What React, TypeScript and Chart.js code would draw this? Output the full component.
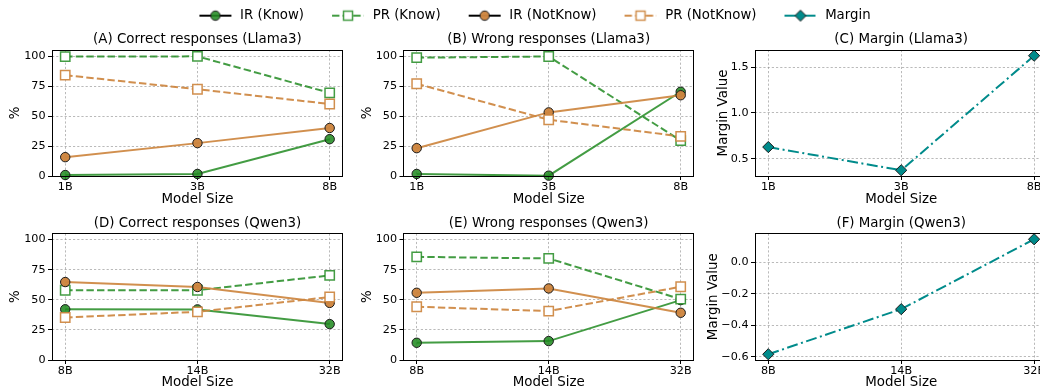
import React, { useEffect, useRef } from 'react';
import { Chart, registerables } from 'chart.js';

Chart.register(...registerables);

// ---------------- data ----------------
const llamaSizes = ['1B', '3B', '8B'];
const qwenSizes = ['8B', '14B', '32B'];

// (A) Correct responses (Llama3)
const llamaCorrectIRKnow = [0.8, 1.7, 30.7];
const llamaCorrectPRKnow = [99.5, 99.7, 69.3];
const llamaCorrectIRNotKnow = [15.7, 27.4, 40.0];
const llamaCorrectPRNotKnow = [84.0, 72.3, 60.0];

// (B) Wrong responses (Llama3)
const llamaWrongIRKnow = [1.7, 0.3, 70.2];
const llamaWrongPRKnow = [98.6, 99.6, 29.5];
const llamaWrongIRNotKnow = [23.2, 53.0, 67.3];
const llamaWrongPRNotKnow = [76.9, 46.9, 33.0];

// (C) Margin (Llama3)
const llamaMargin = [0.627, 0.373, 1.626];

// (D) Correct responses (Qwen3)
const qwenCorrectIRKnow = [42.1, 42.0, 29.8];
const qwenCorrectPRKnow = [57.9, 57.9, 70.2];
const qwenCorrectIRNotKnow = [64.7, 60.6, 47.4];
const qwenCorrectPRNotKnow = [35.3, 40.0, 52.3];

// (E) Wrong responses (Qwen3)
const qwenWrongIRKnow = [14.3, 15.7, 49.7];
const qwenWrongPRKnow = [85.6, 84.3, 50.5];
const qwenWrongIRNotKnow = [55.8, 59.4, 39.2];
const qwenWrongPRNotKnow = [44.2, 40.6, 60.8];

// (F) Margin (Qwen3)
const qwenMargin = [-0.583, -0.297, 0.146];

// tick values
const percentTicks = [0, 25, 50, 75, 100];
const llamaMarginTicks = [0.5, 1.0, 1.5];
const qwenMarginTicks = [-0.6, -0.4, -0.2, 0.0];

const legendLabels = ['IR (Know)', 'PR (Know)', 'IR (NotKnow)', 'PR (NotKnow)', 'Margin'];

// ---------------- styles ----------------
const FONT = 'DejaVu Sans';
const GREEN_LINE = 'rgba(34,139,34,0.85)';
const GREEN_FILL = 'rgba(34,139,34,0.88)';
const ORANGE_LINE = 'rgba(205,133,63,0.92)';
const ORANGE_FILL = 'rgba(205,133,63,0.97)';
const TEAL = '#008b8b';
const GRID = 'rgba(140,140,140,0.75)';
const DASH = [7.4, 3.2];
const DASHDOT = [11, 3.5, 2, 3.5];

const tickFont = { family: FONT, size: 11.2 };
const labelFont = { family: FONT, size: 13.4, weight: 'normal' as const };

type Series = { irKnow: number[]; prKnow: number[]; irNot: number[]; prNot: number[] };

type Panel = {
  title: string;
  sizes: string[];
  series?: Series;
  margin?: number[];
  yTicks: number[];
  left: number;
  top: number;
  ly: number;
  w: number;
  tt: number;
  h: number;
  bb: number;
  yPad: number;
};

const ROW1 = { top: 31, tt: 19, h: 126, bb: 32 };
const ROW2 = { top: 215, tt: 18.5, h: 126.5, bb: 31 };
const COLA = { left: 0, ly: 52, w: 293 };
const COLB = { left: 351, ly: 52.5, w: 292.5 };
const COLC = { left: 695, ly: 60, w: 293 };

const panels: Panel[] = [
  {
    title: '(A) Correct responses (Llama3)', sizes: llamaSizes,
    series: { irKnow: llamaCorrectIRKnow, prKnow: llamaCorrectPRKnow, irNot: llamaCorrectIRNotKnow, prNot: llamaCorrectPRNotKnow },
    yTicks: percentTicks, ...ROW1, ...COLA, yPad: 7.5,
  },
  {
    title: '(B) Wrong responses (Llama3)', sizes: llamaSizes,
    series: { irKnow: llamaWrongIRKnow, prKnow: llamaWrongPRKnow, irNot: llamaWrongIRNotKnow, prNot: llamaWrongPRNotKnow },
    yTicks: percentTicks, ...ROW1, ...COLB, yPad: 8.0,
  },
  {
    title: '(C) Margin (Llama3)', sizes: llamaSizes, margin: llamaMargin,
    yTicks: llamaMarginTicks, ...ROW1, ...COLC, yPad: 20.5,
  },
  {
    title: '(D) Correct responses (Qwen3)', sizes: qwenSizes,
    series: { irKnow: qwenCorrectIRKnow, prKnow: qwenCorrectPRKnow, irNot: qwenCorrectIRNotKnow, prNot: qwenCorrectPRNotKnow },
    yTicks: percentTicks, ...ROW2, ...COLA, yPad: 7.5,
  },
  {
    title: '(E) Wrong responses (Qwen3)', sizes: qwenSizes,
    series: { irKnow: qwenWrongIRKnow, prKnow: qwenWrongPRKnow, irNot: qwenWrongIRNotKnow, prNot: qwenWrongPRNotKnow },
    yTicks: percentTicks, ...ROW2, ...COLB, yPad: 8.0,
  },
  {
    title: '(F) Margin (Qwen3)', sizes: qwenSizes, margin: qwenMargin,
    yTicks: qwenMarginTicks, ...ROW2, ...COLC, yPad: 10,
  },
];

const RIGHT_PAD = 6;

const toPts = (vals: number[]) => vals.map((y, x) => ({ x, y }));

function irDataset(label: string, vals: number[], line: string, fill: string, order: number) {
  return {
    label, data: toPts(vals), order,
    borderColor: line, borderWidth: 2, borderDash: [],
    pointStyle: 'circle', pointRadius: 4.7, pointBackgroundColor: fill,
    pointBorderColor: '#1a1a1a', pointBorderWidth: 1, tension: 0, clip: false,
  };
}

function prDataset(label: string, vals: number[], line: string, order: number) {
  return {
    label, data: toPts(vals), order,
    borderColor: line, borderWidth: 2, borderDash: DASH,
    pointStyle: 'rect', pointRadius: 6.6, pointBackgroundColor: '#ffffff',
    pointBorderColor: line, pointBorderWidth: 1.5, tension: 0, clip: false,
  };
}

const framePlugin = {
  id: 'frame',
  afterDatasetsDraw(chart: any) {
    const { ctx, chartArea: a } = chart;
    const l = Math.floor(a.left) + 0.5;
    const r = Math.floor(a.right) + 0.5;
    const t = Math.floor(a.top) + 0.5;
    const b = Math.floor(a.bottom) + 0.5;
    ctx.save();
    ctx.strokeStyle = '#000';
    ctx.lineWidth = 1;
    ctx.setLineDash([]);
    ctx.strokeRect(l, t, r - l, b - t);
    ctx.restore();
  },
};

function buildConfig(p: Panel): any {
  let datasets: any[];
  let ymin: number;
  let ymax: number;
  let yTitle: string;
  let fmt: (v: number) => string;
  if (p.series) {
    datasets = [
      irDataset('IR (Know)', p.series.irKnow, GREEN_LINE, GREEN_FILL, 4),
      prDataset('PR (Know)', p.series.prKnow, GREEN_LINE, 3),
      irDataset('IR (NotKnow)', p.series.irNot, ORANGE_LINE, ORANGE_FILL, 2),
      prDataset('PR (NotKnow)', p.series.prNot, ORANGE_LINE, 1),
    ];
    ymin = 0;
    ymax = 105;
    yTitle = '%';
    fmt = (v) => String(v);
  } else {
    const m = p.margin as number[];
    datasets = [{
      label: 'Margin', data: toPts(m),
      borderColor: TEAL, borderWidth: 2, borderDash: DASHDOT,
      pointStyle: 'rectRot', pointRadius: 5.6, pointBackgroundColor: TEAL,
      pointBorderColor: '#1a1a1a', pointBorderWidth: 1, tension: 0, clip: false,
    }];
    const lo = Math.min(...m);
    const hi = Math.max(...m);
    const span = hi - lo;
    ymin = lo - 0.05 * span;
    ymax = hi + 0.05 * span;
    yTitle = 'Margin Value';
    fmt = (v) => Number(v).toFixed(1).replace('-', '\u2212');
  }
  const gridOpts = {
    color: GRID, lineWidth: 0.8, tickColor: '#000', tickLength: 4, tickWidth: 1, tickBorderDash: [],
  };
  return {
    type: 'line',
    data: { datasets },
    plugins: [framePlugin],
    options: {
      animation: false,
      responsive: false,
      maintainAspectRatio: false,
      events: [],
      layout: { padding: { left: 0, top: 0, bottom: 0, right: RIGHT_PAD } },
      plugins: {
        legend: { display: false },
        tooltip: { enabled: false },
        title: {
          display: true, text: p.title, color: '#000', font: labelFont, fullSize: false,
          padding: { top: 0, bottom: p.tt - labelFont.size * 1.2 },
        },
      },
      scales: {
        x: {
          type: 'linear', min: -0.1, max: 2.1, bounds: 'data',
          afterBuildTicks: (s: any) => { s.ticks = p.sizes.map((_, i) => ({ value: i })); },
          afterFit: (s: any) => { s.height = p.bb; s.paddingLeft = 0; s.paddingRight = 0; },
          ticks: {
            callback: (v: number) => p.sizes[v] ?? '', font: tickFont, color: '#000', padding: 0.5,
            maxRotation: 0, autoSkip: false,
          },
          grid: gridOpts,
          border: { display: false, dash: [2.2, 2] },
          title: { display: true, text: 'Model Size', color: '#000', font: labelFont, padding: 0 },
        },
        y: {
          type: 'linear', min: ymin, max: ymax, bounds: 'data',
          afterBuildTicks: (s: any) => { s.ticks = p.yTicks.map((v) => ({ value: v })); },
          afterFit: (s: any) => { s.width = p.ly; s.paddingTop = 0; s.paddingBottom = 0; },
          ticks: { callback: (v: number) => fmt(v), font: tickFont, color: '#000', padding: 2.5, autoSkip: false },
          grid: gridOpts,
          border: { display: false, dash: [2.2, 2] },
          title: { display: true, text: yTitle, color: '#000', font: labelFont, padding: { top: p.yPad, bottom: 0 } },
        },
      },
    },
  };
}

function PanelChart({ p }: { p: Panel }) {
  const ref = useRef<HTMLCanvasElement>(null);
  const width = Math.round(p.ly + p.w + RIGHT_PAD);
  const height = Math.round(p.tt + p.h + p.bb);
  useEffect(() => {
    const chart = new Chart(ref.current as HTMLCanvasElement, buildConfig(p));
    return () => chart.destroy();
  }, []);
  return (
    <canvas
      ref={ref}
      width={width}
      height={height}
      style={{ position: 'absolute', left: p.left, top: p.top, width, height }}
    />
  );
}

// ---------------- legend ----------------
type IconSpec = { line: string; dash: number[]; marker: 'circle' | 'rect' | 'diamond'; fill: string; edge: string };

const legendIconSpecs: IconSpec[] = [
  { line: '#000', dash: [], marker: 'circle', fill: GREEN_FILL, edge: '#1a1a1a' },
  { line: GREEN_LINE, dash: DASH, marker: 'rect', fill: '#fff', edge: GREEN_LINE },
  { line: '#000', dash: [], marker: 'circle', fill: ORANGE_FILL, edge: '#1a1a1a' },
  { line: ORANGE_LINE, dash: DASH, marker: 'rect', fill: '#fff', edge: ORANGE_LINE },
  { line: TEAL, dash: DASHDOT, marker: 'diamond', fill: TEAL, edge: '#1a1a1a' },
];

function makeIcon(s: IconSpec): HTMLCanvasElement {
  const c = document.createElement('canvas');
  c.width = 36;
  c.height = 14;
  const ctx = c.getContext('2d') as CanvasRenderingContext2D;
  ctx.lineWidth = 2;
  ctx.strokeStyle = s.line;
  ctx.setLineDash(s.dash);
  ctx.beginPath();
  ctx.moveTo(2, 7);
  ctx.lineTo(34, 7);
  ctx.stroke();
  ctx.setLineDash([]);
  ctx.beginPath();
  if (s.marker === 'circle') {
    ctx.arc(18, 7, 4.7, 0, Math.PI * 2);
    ctx.lineWidth = 1;
  } else if (s.marker === 'rect') {
    ctx.rect(13.5, 2.5, 9, 9);
    ctx.lineWidth = 1.5;
  } else {
    ctx.moveTo(18, 1.5);
    ctx.lineTo(23.5, 7);
    ctx.lineTo(18, 12.5);
    ctx.lineTo(12.5, 7);
    ctx.closePath();
    ctx.lineWidth = 1;
  }
  ctx.fillStyle = s.fill;
  ctx.fill();
  ctx.strokeStyle = s.edge;
  ctx.stroke();
  return c;
}

function LegendChart() {
  const ref = useRef<HTMLCanvasElement>(null);
  useEffect(() => {
    const icons = legendIconSpecs.map(makeIcon);
    const chart = new Chart(ref.current as HTMLCanvasElement, {
      type: 'line',
      data: { datasets: legendLabels.map((label) => ({ label, data: [] as any[] })) },
      options: {
        animation: false,
        responsive: false,
        maintainAspectRatio: false,
        events: [],
        layout: { padding: 0 },
        scales: { x: { display: false }, y: { display: false } },
        plugins: {
          tooltip: { enabled: false },
          legend: {
            display: true,
            position: 'top',
            align: 'center',
            maxHeight: 100,
            labels: {
              usePointStyle: true,
              pointStyleWidth: 36,
              padding: 26,
              color: '#000',
              font: { family: FONT, size: 13.3 },
              generateLabels: () =>
                legendLabels.map((text, i) => ({
                  text,
                  pointStyle: icons[i],
                  fillStyle: 'rgba(0,0,0,0)',
                  strokeStyle: 'rgba(0,0,0,0)',
                  lineWidth: 0,
                  hidden: false,
                  datasetIndex: i,
                })),
            },
          },
        },
      } as any,
    });
    return () => chart.destroy();
  }, []);
  return (
    <canvas
      ref={ref}
      width={1068}
      height={140}
      style={{ position: 'absolute', left: 0, top: -17, width: 1068, height: 140 }}
    />
  );
}

export default function App() {
  return (
    <div
      style={{
        position: 'fixed', left: 0, top: 0, width: 1040, height: 392,
        overflow: 'hidden', background: '#fff',
      }}
    >
      <LegendChart />
      {panels.map((p, i) => (
        <PanelChart key={i} p={p} />
      ))}
    </div>
  );
}
